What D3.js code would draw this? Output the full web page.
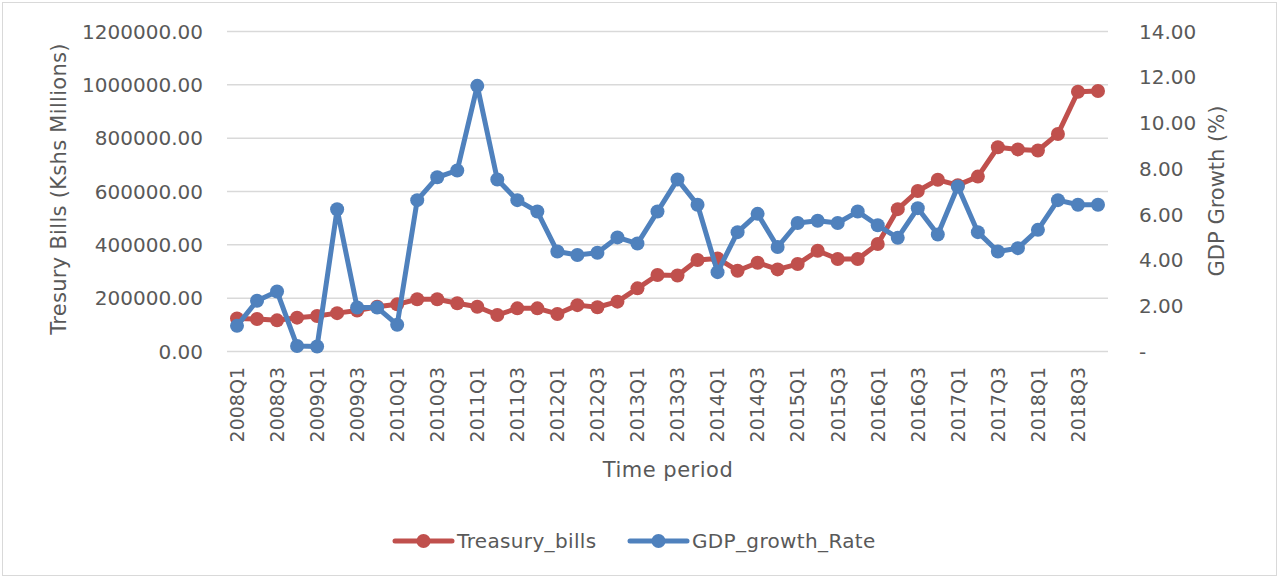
<!DOCTYPE html>
<html>
<head>
<meta charset="utf-8">
<script src="https://cdn.jsdelivr.net/npm/d3@7/dist/d3.min.js"></script>
<style>
  body { margin: 0; background: #fff; }
  svg text { font-family: "DejaVu Sans", sans-serif; fill: #595959; }
</style>
</head>
<body>
<svg id="chart" width="1280" height="579"></svg>
<script>
// Quarterly periods
const quarters = [
  "2008Q1","2008Q2","2008Q3","2008Q4","2009Q1","2009Q2","2009Q3","2009Q4",
  "2010Q1","2010Q2","2010Q3","2010Q4","2011Q1","2011Q2","2011Q3","2011Q4",
  "2012Q1","2012Q2","2012Q3","2012Q4","2013Q1","2013Q2","2013Q3","2013Q4",
  "2014Q1","2014Q2","2014Q3","2014Q4","2015Q1","2015Q2","2015Q3","2015Q4",
  "2016Q1","2016Q2","2016Q3","2016Q4","2017Q1","2017Q2","2017Q3","2017Q4",
  "2018Q1","2018Q2","2018Q3","2018Q4"
];

// Treasury bills outstanding (Kshs millions)
const treasuryBills = [
  122000, 120000, 115000, 125000, 131000, 142000, 152000, 166000,
  175000, 194000, 194000, 179000, 166000, 135000, 160000, 160000,
  139000, 172000, 164000, 185000, 235000, 285000, 283000, 341000,
  347000, 301000, 331000, 306000, 326000, 376000, 345000, 345000,
  401000, 532000, 600000, 642000, 622000, 654000, 764000, 756000,
  752000, 814000, 972000, 975000
];

// Real GDP growth rate (%)
const gdpGrowth = [
  1.10, 2.20, 2.60, 0.22, 0.20, 6.20, 1.90, 1.90,
  1.15, 6.60, 7.60, 7.90, 11.60, 7.50, 6.60, 6.10,
  4.35, 4.20, 4.30, 4.97, 4.70, 6.10, 7.50, 6.40,
  3.45, 5.20, 6.00, 4.55, 5.60, 5.70, 5.60, 6.10,
  5.50, 4.95, 6.25, 5.10, 7.20, 5.20, 4.35, 4.50,
  5.30, 6.60, 6.40, 6.40
];

const leftTicks = [0, 200000, 400000, 600000, 800000, 1000000, 1200000];
const rightTicks = [0, 2, 4, 6, 8, 10, 12, 14];
const seriesNames = ["Treasury_bills", "GDP_growth_Rate"];

const RED = "#C0504D", BLUE = "#4F81BD", GRID = "#D9D9D9";

const svg = d3.select("#chart");

// chart border
svg.append("rect")
  .attr("x", 2.5).attr("y", 2.5).attr("width", 1274).attr("height", 573)
  .attr("fill", "#fff").attr("stroke", GRID).attr("stroke-width", 1);

const plot = { left: 227, right: 1108, top: 31, bottom: 351 };

const x = d3.scaleBand().domain(quarters).range([plot.left, plot.right]).padding(0);
const cx = d => x(d) + x.bandwidth() / 2;
const yL = d3.scaleLinear().domain([0, 1200000]).range([plot.bottom, plot.top]);
const yR = d3.scaleLinear().domain([0, 14]).range([plot.bottom, plot.top]);

// gridlines + left axis labels
const gL = svg.append("g").attr("transform", `translate(${plot.left},0)`)
  .call(d3.axisLeft(yL).tickValues(leftTicks)
    .tickSize(-(plot.right - plot.left)).tickPadding(24)
    .tickFormat(d => d.toFixed(2)));
gL.select(".domain").remove();
gL.selectAll(".tick line").attr("stroke", GRID).attr("stroke-width", 1.5);
gL.selectAll(".tick text").style("font-size", "20px").attr("dy", "0.36em");

// right axis labels
const gR = svg.append("g").attr("transform", `translate(${plot.right},0)`)
  .call(d3.axisRight(yR).tickValues(rightTicks).tickSize(0).tickPadding(31)
    .tickFormat(d => d === 0 ? "-" : d.toFixed(2)));
gR.select(".domain").remove();
gR.selectAll(".tick text").style("font-size", "20px").attr("dy", "0.36em");

// x axis labels (every other quarter)
const gX = svg.append("g").attr("transform", `translate(0,${plot.bottom})`)
  .call(d3.axisBottom(x).tickValues(quarters.filter((q, i) => i % 2 === 0)).tickSize(0));
gX.select(".domain").remove();
gX.selectAll(".tick text")
  .style("font-size", "19px")
  .attr("transform", "rotate(-90)")
  .attr("text-anchor", "end")
  .attr("x", -16).attr("y", 0).attr("dy", "0.36em");

// axis titles
svg.append("text")
  .attr("transform", `translate(66,189) rotate(-90)`)
  .attr("text-anchor", "middle")
  .style("font-size", "21px").style("letter-spacing", "0.3px")
  .text("Tresury Bills (Kshs Millions)");

svg.append("text")
  .attr("transform", `translate(1224,191) rotate(-90)`)
  .attr("text-anchor", "middle")
  .style("font-size", "21px")
  .text("GDP Growth (%)");

svg.append("text")
  .attr("x", 668).attr("y", 477)
  .attr("text-anchor", "middle")
  .style("font-size", "21px").style("letter-spacing", "0.5px")
  .text("Time period");

// series
function drawSeries(values, yScale, color) {
  const g = svg.append("g");
  const line = d3.line().x((d, i) => cx(quarters[i])).y(d => yScale(d));
  g.append("path").datum(values)
    .attr("fill", "none").attr("stroke", color)
    .attr("stroke-width", 5).attr("stroke-linejoin", "round")
    .attr("d", line);
  g.selectAll("circle").data(values).join("circle")
    .attr("cx", (d, i) => cx(quarters[i]))
    .attr("cy", d => yScale(d))
    .attr("r", 7).attr("fill", color);
}
drawSeries(treasuryBills, yL, RED);
drawSeries(gdpGrowth, yR, BLUE);

// legend
const legendItems = [
  { name: seriesNames[0], color: RED, x: 395 },
  { name: seriesNames[1], color: BLUE, x: 630 }
];
const lg = svg.append("g").attr("transform", "translate(0,541)");
legendItems.forEach(it => {
  lg.append("line").attr("x1", it.x).attr("x2", it.x + 57).attr("y1", 0).attr("y2", 0)
    .attr("stroke", it.color).attr("stroke-width", 5).attr("stroke-linecap", "round");
  lg.append("circle").attr("cx", it.x + 28.5).attr("cy", 0).attr("r", 7).attr("fill", it.color);
  lg.append("text").attr("x", it.x + 62).attr("y", 0).attr("dy", "0.36em")
    .style("font-size", "20px").style("letter-spacing", "0.35px").text(it.name);
});
</script>
</body>
</html>
